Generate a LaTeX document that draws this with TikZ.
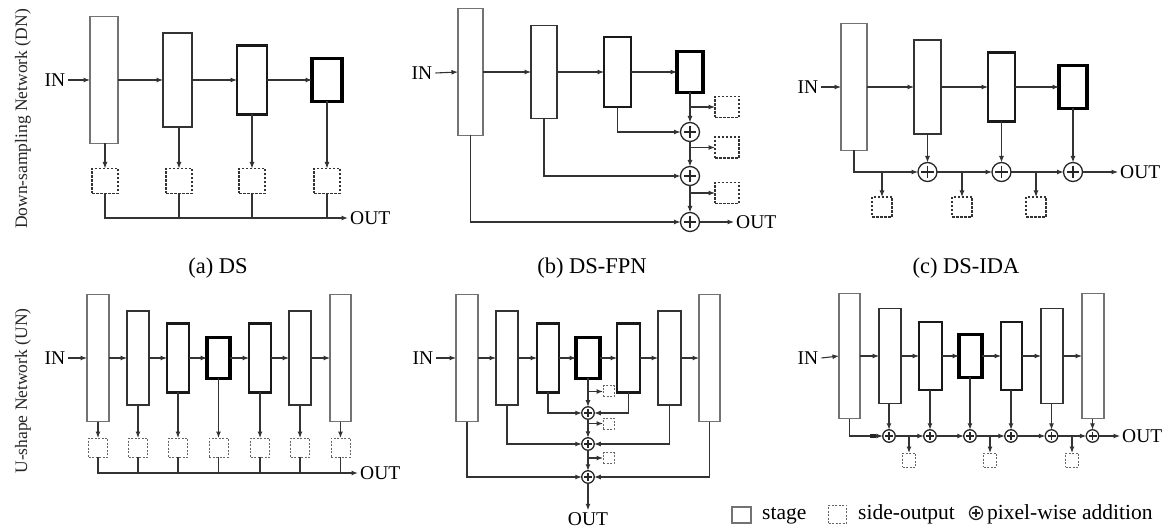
\documentclass[tikz,border=0pt]{standalone}
\usepackage{fontspec}
\setmainfont{Liberation Serif}
\usetikzlibrary{arrows.meta,calc}
\begin{document}
\begin{tikzpicture}[x=1pt,y=-1pt,
 lbl/.style={inner sep=0, font=\fontsize{19.5}{19.5}\selectfont},
 lgd/.style={inner sep=0, font=\fontsize{21.5}{21.5}\selectfont},
 captxt/.style={inner sep=0, font=\fontsize{22.5}{22.5}\selectfont},
 vlab/.style={inner sep=0, font=\fontsize{17.5}{17.5}\selectfont, rotate=90, text=black!85},
 wh/.style 2 args={minimum width=#1, minimum height=#2},
 stg/.style={draw, fill=white, inner sep=0, outer sep=0},
 sa/.style={stg, line width=1.1pt, draw=black!55},
 sb/.style={stg, line width=1.7pt, draw=black!80},
 sc/.style={stg, line width=2.3pt, draw=black!90},
 sd/.style={stg, line width=3.1pt, draw=black},
 so/.style={draw=black!80, dash pattern=on 2.5pt off 1.5pt, line width=1.4pt, inner sep=0, outer sep=0, fill=white},
 sos/.style={so, line width=1pt, draw=black!60, dash pattern=on 2pt off 1.5pt},
 pl/.style={circle, draw=black!85, line width=1.3pt, fill=white, inner sep=0, outer sep=0, minimum size=#1,
  path picture={
   \draw[line width=1.2pt] ($(path picture bounding box.north)!0.18!(path picture bounding box.south)$) -- ($(path picture bounding box.north)!0.82!(path picture bounding box.south)$);
   \draw[line width=1.2pt] ($(path picture bounding box.west)!0.18!(path picture bounding box.east)$) -- ($(path picture bounding box.west)!0.82!(path picture bounding box.east)$);}},
 ar/.style={draw=black!80, line width=1.1pt, -{Latex[length=6.5pt,width=5pt]}},
 ln/.style={draw=black!80, line width=1.1pt},
]
\useasboundingbox (0,0) rectangle (1176,529);

% vertical labels
\node[vlab] (vdn) at (23,119) {Down-sampling Network (DN)};
\node[vlab] (vun) at (23,391) {U-shape Network (UN)};

% ---------------- (a) DS
\node[lbl] (ina) at (55,80) {IN};
\node[sa,wh={28}{127}] (a1) at (104,80) {};
\node[sb,wh={29}{94}] (a2) at (177.5,80) {};
\node[sc,wh={30}{69}] (a3) at (252,80) {};
\node[sd,wh={30}{43}] (a4) at (327,80) {};
\foreach \i/\x in {1/105,2/179,3/252,4/327}
  \node[so,wh={26}{25}] (as\i) at (\x,181) {};
\node[lbl,anchor=west] (outa) at (350,218) {OUT};
\draw[ar] ([xshift=3pt]ina.east) -- (a1.west);
\draw[ar] (a1.east) -- (a2.west);
\draw[ar] (a2.east) -- (a3.west);
\draw[ar] (a3.east) -- (a4.west);
\foreach \i in {1,...,4} \draw[ar] (as\i.north |- a\i.south) -- (as\i.north);
\draw[ar, line width=1.7pt] (as1.south) |- ([xshift=-2pt]outa.west);
\foreach \i in {2,3,4} \draw[ln] (as\i.south) -- (as\i.south |- outa.west);
\node[captxt] (capa) at (218,268) {(a) DS};

% ---------------- (b) DS-FPN
\node[lbl] (inb) at (422,73) {IN};
\node[sa,wh={25}{127}] (b1) at (470.5,72) {};
\node[sb,wh={26}{93}] (b2) at (544,72) {};
\node[sc,wh={27}{70}] (b3) at (617.5,72) {};
\node[sd,wh={26}{41}] (b4) at (690,72) {};
\node[pl=19pt] (pb1) at (690,132) {};
\node[pl=19pt] (pb2) at (690,176) {};
\node[pl=19pt] (pb3) at (690,222) {};
\node[so,wh={24}{21}] (sob1) at (727,107) {};
\node[so,wh={24}{21}] (sob2) at (727,147.5) {};
\node[so,wh={24}{21}] (sob3) at (727,193) {};
\node[lbl,anchor=west] (outb) at (736,222) {OUT};
\draw[ar] ([xshift=3pt]inb.east) -- (b1.west);
\draw[ar] (b1.east) -- (b2.west);
\draw[ar] (b2.east) -- (b3.west);
\draw[ar] (b3.east) -- (b4.west);
\draw[ar] (b4.south) -- (pb1.north);
\draw[ar] (pb1.south) -- (pb2.north);
\draw[ar] (pb2.south) -- (pb3.north);
\draw[ar] (b4.south |- sob1.west) -- (sob1.west);
\draw[ar] (pb1.south |- sob2.west) -- (sob2.west);
\draw[ar] (pb2.south |- sob3.west) -- (sob3.west);
\draw[ar] (b3.south) |- (pb1.west);
\draw[ar] (b2.south) |- (pb2.west);
\draw[ar] (b1.south) |- (pb3.west);
\draw[ar] (pb3.east) -- ([xshift=-2pt]outb.west);
\node[captxt] (capb) at (592,268) {(b) DS-FPN};

% ---------------- (c) DS-IDA
\node[lbl] (inc) at (808,87) {IN};
\node[sa,wh={26}{127}] (c1) at (854,87) {};
\node[sb,wh={27}{94}] (c2) at (927.5,87) {};
\node[sc,wh={27}{69}] (c3) at (1001.5,87) {};
\node[sd,wh={28}{43}] (c4) at (1073,87) {};
\node[pl=19pt] (pc1) at (927.5,172) {};
\node[pl=19pt] (pc2) at (1001.5,172) {};
\node[pl=19pt] (pc3) at (1073,172) {};
\node[so,wh={20}{20}] (soc1) at (882,207) {};
\node[so,wh={20}{20}] (soc2) at (962,207) {};
\node[so,wh={20}{20}] (soc3) at (1036,207) {};
\node[lbl,anchor=west] (outc) at (1120,172) {OUT};
\draw[ar] ([xshift=3pt]inc.east) -- (c1.west);
\draw[ar] (c1.east) -- (c2.west);
\draw[ar] (c2.east) -- (c3.west);
\draw[ar] (c3.east) -- (c4.west);
\draw[ar] (c1.south) |- (pc1.west);
\draw[ar] (pc1.east) -- (pc2.west);
\draw[ar] (pc2.east) -- (pc3.west);
\draw[ar] (c2.south) -- (pc1.north);
\draw[ar] (c3.south) -- (pc2.north);
\draw[ar] (c4.south) -- (pc3.north);
\draw[ar] (soc1.north |- pc1.west) -- (soc1.north);
\draw[ar] (soc2.north |- pc1.west) -- (soc2.north);
\draw[ar] (soc3.north |- pc1.west) -- (soc3.north);
\draw[ar] (pc3.east) -- ([xshift=-2pt]outc.west);
\node[captxt] (capc) at (966,268) {(c) DS-IDA};

% ---------------- (d) US
\node[lbl] (ind) at (55,358) {IN};
\node[sa,wh={22}{127}] (d1) at (98,358) {};
\node[sb,wh={22}{94}] (d2) at (138,358) {};
\node[sc,wh={22}{69}] (d3) at (178,358) {};
\node[sd,wh={23}{41}] (d4) at (218.5,358) {};
\node[sc,wh={22}{69}] (d5) at (260,358) {};
\node[sb,wh={22}{94}] (d6) at (300,358) {};
\node[sa,wh={21}{127}] (d7) at (340.5,358) {};
\foreach \i/\x in {1/98,2/138,3/178,4/218.5,5/260,6/300,7/340.5}
  \node[sos,wh={19}{19}] (ds\i) at (\x,447.5) {};
\node[lbl,anchor=west] (outd) at (360,473) {OUT};
\draw[ar] ([xshift=3pt]ind.east) -- (d1.west);
\foreach \i/\j in {1/2,2/3,3/4,4/5,5/6,6/7} \draw[ar] (d\i.east) -- (d\j.west);
\foreach \i in {1,...,7} \draw[ar] (d\i.south) -- (ds\i.north);
\draw[ar, line width=1.7pt] (ds1.south) |- ([xshift=-2pt]outd.west);
\foreach \i in {2,...,7} \draw[ln] (ds\i.south) -- (ds\i.south |- outd.west);

% ---------------- (e) US-FPN
\node[lbl] (ine) at (423,358) {IN};
\node[sa,wh={22}{127}] (e1) at (467,358) {};
\node[sb,wh={22}{94}] (e2) at (507,358) {};
\node[sc,wh={22}{69}] (e3) at (548,358) {};
\node[sd,wh={24}{41}] (e4) at (588,358) {};
\node[sc,wh={23}{69}] (e5) at (628.5,358) {};
\node[sb,wh={23}{94}] (e6) at (669.5,358) {};
\node[sa,wh={21}{127}] (e7) at (709.5,358) {};
\node[pl=12.5pt] (pe1) at (588,413) {};
\node[pl=12.5pt] (pe2) at (588,444) {};
\node[pl=12.5pt] (pe3) at (588,477) {};
\node[sos,wh={11}{11}] (soe1) at (608.5,391.5) {};
\node[sos,wh={11}{11}] (soe2) at (608.5,423.5) {};
\node[sos,wh={11}{11}] (soe3) at (608.5,458) {};
\node[lbl] (oute) at (588,519) {OUT};
\draw[ar] ([xshift=3pt]ine.east) -- (e1.west);
\foreach \i/\j in {1/2,2/3,3/4,4/5,5/6,6/7} \draw[ar] (e\i.east) -- (e\j.west);
\draw[ar] (e4.south) -- (pe1.north);
\draw[ar] (pe1.south) -- (pe2.north);
\draw[ar] (pe2.south) -- (pe3.north);
\draw[ar] (e4.south |- soe1.west) -- (soe1.west);
\draw[ar] (pe1.south |- soe2.west) -- (soe2.west);
\draw[ar] (pe2.south |- soe3.west) -- (soe3.west);
\draw[ar] (e3.south) |- (pe1.west);
\draw[ar] (e5.south) |- (pe1.east);
\draw[ar] (e2.south) |- (pe2.west);
\draw[ar] (e6.south) |- (pe2.east);
\draw[ar] (e1.south) |- (pe3.west);
\draw[ar] (e7.south) |- (pe3.east);
\draw[ar] (pe3.south) -- ([yshift=2pt]oute.north);

% ---------------- (f) US-IDA
\node[lbl] (inf) at (808,358) {IN};
\node[sa,wh={21}{125}] (f1) at (849.5,356) {};
\node[sb,wh={22}{95}] (f2) at (890,356) {};
\node[sc,wh={23}{68}] (f3) at (930.5,356) {};
\node[sd,wh={23}{43}] (f4) at (970.5,356) {};
\node[sc,wh={21}{68}] (f5) at (1011.5,356) {};
\node[sb,wh={22}{95}] (f6) at (1052,356) {};
\node[sa,wh={22}{125}] (f7) at (1093,356) {};
\foreach \i/\x in {1/889,2/930,3/970,4/1011,5/1051.5,6/1092.5}
  \node[pl=12.5pt] (pf\i) at (\x,436) {};
\node[sos,wh={13}{14}] (sof1) at (909,460) {};
\node[sos,wh={13}{14}] (sof2) at (990,460) {};
\node[sos,wh={13}{14}] (sof3) at (1072,460) {};
\node[lbl,anchor=west] (outf) at (1122,436) {OUT};
\draw[ar] ([xshift=3pt]inf.east) -- (f1.west);
\foreach \i/\j in {1/2,2/3,3/4,4/5,5/6,6/7} \draw[ar] (f\i.east) -- (f\j.west);
\draw[ar] (f1.south) |- (pf1.west);
\draw[line width=4pt, draw=black!85] ([xshift=-13pt]pf1.west) -- ([xshift=-7pt]pf1.west);
\foreach \i/\j in {1/2,2/3,3/4,4/5,5/6,6/7} \draw[ar] (pf\i.north |- f\j.south) -- (pf\i.north);
\foreach \i/\j in {1/2,2/3,3/4,4/5,5/6} \draw[ar] (pf\i.east) -- (pf\j.west);
\draw[ar] (sof1.north |- pf1.east) -- (sof1.north);
\draw[ar] (sof2.north |- pf1.east) -- (sof2.north);
\draw[ar] (sof3.north |- pf1.east) -- (sof3.north);
\draw[ar] (pf6.east) -- ([xshift=-2pt]outf.west);

% ---------------- legend
\node[sa,wh={19}{16}] (lg1) at (741.5,515) {};
\node[lgd,anchor=base west] (lt1) at (762,519) {stage};
\node[sos,wh={18}{18}] (lg2) at (837.5,514) {};
\node[lgd,anchor=base west] (lt2) at (858,519) {side-output};
\node[pl=13pt] (lg3) at (976,513) {};
\node[lgd,anchor=base west] (lt3) at (987,519) {pixel-wise addition};
\end{tikzpicture}
\end{document}
